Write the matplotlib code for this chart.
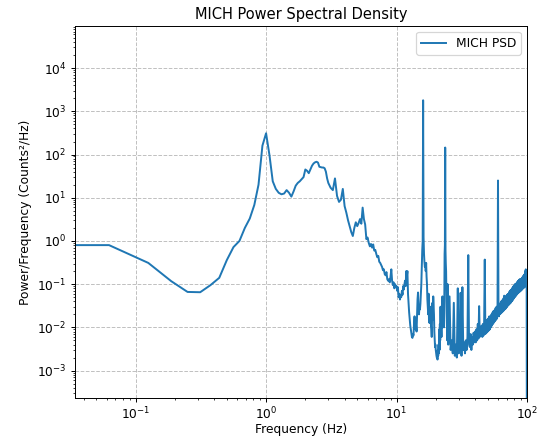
# plotting the power spectral density of the MICH channel
import numpy as np
import matplotlib
matplotlib.use('Agg')
import matplotlib.pyplot as plt

# frequency bins of the low band (0 to 3 Hz), resolution 1/16 Hz
freq_low = np.arange(0, 48) * 0.0625
psd_low = [0.8, 0.8, 0.31, 0.117, 0.066, 0.065, 0.095, 0.14,
           0.36, 0.72, 1.0, 2.0, 3.3, 6.8, 20, 160,
           310, 95, 24, 16, 13, 12, 12.5, 15,
           13, 10.6, 14, 19, 22, 24, 27, 30,
           45, 42, 37, 45, 55, 62, 66, 68,
           65, 52, 51, 50, 50, 48, 40, 28]

# 3 to 10 Hz, every second bin
freq_mid = 3.0 + np.arange(0, 56) * 0.125
psd_mid = [22, 17, 15, 28, 11, 8, 9, 16,
           6.4, 4.5, 3.0, 2.2, 1.6, 1.3, 2.0, 2.7,
           2.2, 2.6, 3.2, 2.5, 5.9, 3.2, 2.4, 1.1,
           1.2, 0.9, 0.75, 0.85, 0.7, 0.83, 0.6, 0.62,
           0.5, 0.42, 0.45, 0.33, 0.31, 0.28, 0.25, 0.21,
           0.22, 0.17, 0.16, 0.19, 0.13, 0.12, 0.13, 0.11,
           0.15, 0.22, 0.12, 0.095, 0.11, 0.08, 0.1, 0.085]

# 10 to 25 Hz, with the 16 Hz and 23.6 Hz lines
freq_high = 10.0 + np.arange(0, 120) * 0.125
psd_high = [0.09, 0.07, 0.085, 0.05, 0.06, 0.044, 0.055, 0.05,
            0.07, 0.057, 0.09, 0.075, 0.098, 0.12, 0.09, 0.2,
            0.15, 0.2, 0.06, 0.035, 0.022, 0.015, 0.011, 0.009,
            0.0075, 0.006, 0.0057, 0.007, 0.0065, 0.012, 0.018, 0.01,
            0.009, 0.011, 0.008, 0.02, 0.045, 0.064, 0.03, 0.02,
            0.031, 0.026, 0.035, 0.06, 0.1, 0.25, 0.6, 1.0,
            1800, 1.2, 0.5, 0.32, 0.25, 0.3, 0.2, 0.31,
            0.15, 0.1, 0.044, 0.03, 0.02, 0.06, 0.013, 0.025,
            0.0126, 0.03, 0.02, 0.011, 0.009, 0.006, 0.02, 0.037,
            0.015, 0.052, 0.03, 0.02, 0.008, 0.005, 0.0035, 0.004,
            0.003, 0.0025, 0.0022, 0.002, 0.0021, 0.0018, 0.003, 0.0022,
            0.004, 0.0025, 0.009, 0.003, 0.012, 0.005, 0.03, 0.0088,
            0.012, 0.006, 0.03, 0.01, 0.052, 0.02, 0.05, 0.012,
            0.025, 0.01, 0.04, 0.5, 0.8, 145, 0.6, 0.3,
            0.2, 0.05, 0.02, 0.0088, 0.005, 0.1, 0.01, 0.004]

# 25 to 100 Hz, every 0.5 Hz, last bin is the Nyquist bin
freq_top = 25.0 + np.arange(0, 151) * 0.5
psd_top = [0.004, 0.052, 0.003, 0.005, 0.0025, 0.037, 0.0022, 0.004, 0.002, 0.08,
           0.0025, 0.004, 0.063, 0.0022, 0.085, 0.003, 0.0045, 0.0025, 0.005, 0.003,
           0.006, 0.47, 0.004, 0.0035, 0.007, 0.003, 0.006, 0.004, 0.0075, 0.0045,
           0.008, 0.0045, 0.009, 0.005, 0.012, 0.0055, 0.031, 0.006, 0.01, 0.0065,
           0.011, 0.006, 0.012, 0.0065, 0.014, 0.37, 0.007, 0.013, 0.0075, 0.015,
           0.008, 0.016, 0.0085, 0.018, 0.009, 0.017, 0.01, 0.02, 0.011, 0.022,
           0.012, 0.024, 0.013, 0.025, 0.014, 0.028, 0.015, 0.03, 0.016, 0.03,
           25, 0.035, 0.018, 0.035, 0.02, 0.036, 0.021, 0.04, 0.022, 0.042,
           0.023, 0.045, 0.024, 0.048, 0.054, 0.026, 0.05, 0.027, 0.052, 0.029,
           0.055, 0.03, 0.058, 0.032, 0.06, 0.033, 0.065, 0.035, 0.07, 0.036,
           0.072, 0.038, 0.075, 0.04, 0.08, 0.042, 0.085, 0.045, 0.09, 0.047,
           0.095, 0.05, 0.1, 0.052, 0.1, 0.055, 0.105, 0.057, 0.11, 0.06,
           0.115, 0.062, 0.12, 0.064, 0.125, 0.066, 0.13, 0.068, 0.128, 0.07,
           0.13, 0.072, 0.135, 0.075, 0.14, 0.078, 0.15, 0.08, 0.155, 0.082,
           0.16, 0.085, 0.17, 0.088, 0.2, 0.09, 0.22, 0.095, 0.21, 0.1,
           1e-6]


def main():
    # putting the bands together
    freqs = np.concatenate([freq_low, freq_mid, freq_high, freq_top])
    psd = np.concatenate([psd_low, psd_mid, psd_high, psd_top])

    dpi = 88
    fig = plt.figure(figsize=(541 / dpi, 438 / dpi), dpi=dpi)
    fig.subplots_adjust(left=0.139, right=0.974, top=0.941, bottom=0.091)

    # log-log plot of the spectrum
    plt.loglog(freqs, psd, label='MICH PSD', linewidth=1.6)
    plt.xlim(0.0344, 100)
    plt.ylim(2.3e-4, 9.5e4)
    plt.tick_params(axis='x', pad=2.5)
    plt.xlabel('Frequency (Hz)', labelpad=1)
    plt.ylabel('Power/Frequency (Counts²/Hz)')
    plt.title('MICH Power Spectral Density')
    plt.grid(True, linestyle='--', alpha=0.8)
    plt.legend(loc='upper right')
    plt.savefig('out.png', dpi=dpi)


if __name__ == '__main__':
    main()
